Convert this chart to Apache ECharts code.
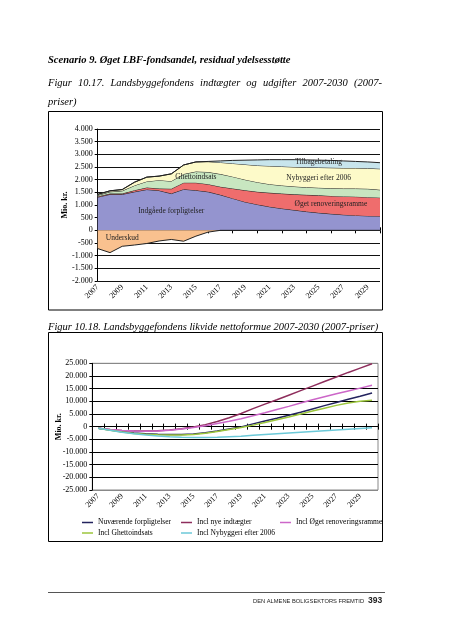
<!DOCTYPE html>
<html><head><meta charset="utf-8">
<script src="https://cdn.jsdelivr.net/npm/echarts@6/dist/echarts.min.js"></script>
<style>html,body{margin:0;padding:0;background:#fff;}#c{width:453px;height:640px;}</style>
</head><body><div id="c"></div>
<script>
// ---------- DATA ----------
const years = ['2007','2008','2009','2010','2011','2012','2013','2014','2015','2016','2017','2018','2019','2020','2021','2022','2023','2024','2025','2026','2027','2028','2029','2030'];

// Figure 10.17 (stacked components, Mio. kr.)
const indgaaede   = [1310,1420,1420,1520,1610,1570,1450,1620,1580,1520,1400,1260,1120,1020,930,860,800,740,690,650,615,590,570,560];
const renovering  = [30,30,30,60,80,80,190,260,300,300,320,390,460,500,550,590,620,660,690,710,725,740,740,730];
const ghetto      = [40,70,110,190,240,330,300,340,440,480,500,470,420,380,340,320,310,300,300,300,310,320,330,310];
const nybyggeri   = [40,40,50,130,170,160,290,360,380,410,460,520,600,660,720,750,770,790,800,810,810,810,810,830];
const tilbage     = [0,0,0,0,0,0,0,0,0,10,60,120,170,220,250,270,290,290,290,290,280,260,250,240];
const underskud   = [-720,-880,-630,-580,-520,-420,-360,-430,-230,-70,0,0,0,0,0,0,0,0,0,0,0,0,0,0];
const topNames = ['Indgåede forpligtelser','Øget renoveringsramme','Ghettoindsats','Nybyggeri efter 2006','Tilbagebetaling','Underskud'];

// Figure 10.18 (Mio. kr.)
const nuvaerende  = [-600,-1300,-2000,-2500,-2800,-3000,-3100,-3100,-2900,-2400,-1700,-900,-100,1100,2200,3300,4500,5700,7000,8300,9500,10800,12000,13300];
const nyeIndt     = [-600,-1100,-1500,-1700,-1750,-1650,-1350,-800,-100,800,2000,3500,5200,7100,8900,10600,12400,14200,16000,17800,19600,21400,23100,24800];
const inclReno    = [-600,-1100,-1500,-1750,-1800,-1700,-1400,-900,-300,400,1200,2100,3100,4300,5500,6800,8000,9300,10600,11800,13000,14100,15200,16300];
const inclGhetto  = [-600,-1400,-2100,-2700,-3000,-3200,-3300,-3300,-3100,-2600,-1900,-1100,-300,600,1600,2700,3800,5000,6200,7300,8400,9300,10000,10400];
const inclNybyg   = [-600,-1400,-2200,-2800,-3300,-3700,-4000,-4200,-4300,-4300,-4200,-4000,-3800,-3400,-3100,-2800,-2500,-2200,-1900,-1600,-1300,-1000,-700,-400];
const lineNames = ['Nuværende forpligtelser','Incl nye indtægter','Incl Øget renoveringsramme','Incl Ghettoindsats','Incl Nybyggeri efter 2006'];

// ---------- STYLE ----------
const serif = '"Liberation Serif","Times New Roman",serif';
const sans = '"Liberation Sans",Arial,sans-serif';
const areaColors = ['#9494cf','#ef6d6d','#c8e6c0','#fdfac9','#c8e5ec','#f9c18f'];
const lineColors = ['#23235e','#8e2d5c','#cc66c8','#9cc63c','#6cc9d8'];

function fmt(v){ const s = String(Math.abs(v)).replace(/\B(?=(\d{3})+(?!\d))/g,'.'); return (v<0?'-':'')+s; }

const chart = echarts.init(document.getElementById('c'), null, {width:453, height:640});

const yLabel = {fontFamily:serif, fontSize:8, color:'#000', margin:5, formatter:fmt};
const xLabel = {fontFamily:serif, fontSize:8, color:'#000', rotate:45, margin:5, interval:1};

const topSeries = [indgaaede, renovering, ghetto, nybyggeri, tilbage].map((d,i)=>({
  name: topNames[i], type:'line', stack:'pos', data:d, symbol:'none',
  xAxisIndex:0, yAxisIndex:0,
  lineStyle:{color:'#222', width:1}, areaStyle:{color:areaColors[i], opacity:1}, z:2+i
}));
topSeries.push({
  name: topNames[5], type:'line', stack:'neg', data:underskud, symbol:'none',
  xAxisIndex:0, yAxisIndex:0,
  lineStyle:{color:'#222', width:1}, areaStyle:{color:areaColors[5], opacity:1}, z:2
});

const botSeries = [nuvaerende, nyeIndt, inclReno, inclGhetto, inclNybyg].map((d,i)=>({
  name: lineNames[i], type:'line', data:d, symbol:'none', xAxisIndex:3, yAxisIndex:1,
  lineStyle:{color:lineColors[i], width:1.5}, itemStyle:{color:lineColors[i]}, z:5
}));

const legendPos = [[82,518.5],[181,518.5],[280,518.5],[82,529],[181,529]];
const legends = lineNames.map((n,i)=>({
  data:[n], left:legendPos[i][0], top:legendPos[i][1], padding:0,
  icon:'rect', itemWidth:11, itemHeight:1.5, selectedMode:false,
  textStyle:{fontFamily:serif, fontSize:7.5, color:'#000'}
}));

const splitColsBot = ['#888','#000','#000','#000','#000','#000','#000','#000','#000','#000','#888'];

const tickAxisTop = {show:true, length:3, interval:(i)=>i%2===1, lineStyle:{color:'#000'}};
const tickAxisBot = {show:true, length:3, interval:0, lineStyle:{color:'#000'}};

chart.setOption({
  animation:false,
  backgroundColor:'#fff',
  grid:[
    {left:97.7, right:73, top:129, bottom:359, containLabel:false},
    {left:92.3, right:75, top:363.3, bottom:150, containLabel:false, show:true, borderColor:'#888', borderWidth:1}
  ],
  legend: legends,
  xAxis:[
    {gridIndex:0, type:'category', data:years, boundaryGap:false, position:'bottom',
     axisLine:{onZero:true, onZeroAxisIndex:0, lineStyle:{color:'#000', width:1}},
     axisTick:tickAxisTop, axisLabel:{show:false}, splitLine:{show:false}},
    {gridIndex:0, type:'category', data:years, boundaryGap:false, position:'bottom',
     axisLine:{show:false, onZero:false}, axisTick:{show:false}, axisLabel:xLabel, splitLine:{show:false}},
    {gridIndex:0, type:'category', data:years, boundaryGap:false, position:'top',
     axisLine:{show:false, onZero:true, onZeroAxisIndex:2}, axisTick:tickAxisTop,
     axisLabel:{show:false}, splitLine:{show:false}},
    {gridIndex:1, type:'category', data:years, boundaryGap:true, position:'bottom',
     axisLine:{onZero:true, onZeroAxisIndex:1, lineStyle:{color:'#000', width:1}},
     axisTick:tickAxisBot, axisLabel:{show:false}, splitLine:{show:false}},
    {gridIndex:1, type:'category', data:years, boundaryGap:true, position:'bottom',
     axisLine:{show:false, onZero:false}, axisTick:{show:false}, axisLabel:xLabel, splitLine:{show:false}},
    {gridIndex:1, type:'category', data:years, boundaryGap:true, position:'top',
     axisLine:{show:false, onZero:true, onZeroAxisIndex:3}, axisTick:tickAxisBot,
     axisLabel:{show:false}, splitLine:{show:false}}
  ],
  yAxis:[
    {gridIndex:0, type:'value', min:-2000, max:4000, interval:500,
     name:'Mio. kr.', nameLocation:'middle', nameRotate:90, nameGap:28.5, nameMoveOverlap:false,
     nameTextStyle:{fontFamily:serif, fontSize:8, fontWeight:'bold', color:'#000'},
     axisLine:{show:true, onZero:false, lineStyle:{color:'#000'}}, axisTick:{show:true, length:3, lineStyle:{color:'#000'}},
     axisLabel:yLabel, splitLine:{show:true, lineStyle:{color:'#111', width:1}}},
    {gridIndex:1, type:'value', min:-25000, max:25000, interval:5000,
     name:'Mio. kr.', nameLocation:'middle', nameRotate:90, nameGap:29, nameMoveOverlap:false,
     nameTextStyle:{fontFamily:serif, fontSize:8, fontWeight:'bold', color:'#000'},
     axisLine:{show:true, onZero:false, lineStyle:{color:'#000'}}, axisTick:{show:true, length:3, lineStyle:{color:'#000'}},
     axisLabel:yLabel, splitLine:{show:true, lineStyle:{color:splitColsBot, width:1}}},
    {gridIndex:0, type:'value', min:-2000, max:4000, interval:500, position:'right',
     axisLine:{show:false, onZero:false}, axisTick:{show:false}, axisLabel:{show:false}, splitLine:{show:false}},
    {gridIndex:1, type:'value', min:-25000, max:25000, interval:5000, position:'right',
     axisLine:{show:false, onZero:false}, axisTick:{show:false}, axisLabel:{show:false}, splitLine:{show:false}}
  ],
  series: topSeries.concat(botSeries)
});

// ---------- annotations & page text ----------
const g = [];
g.push({type:'rect', shape:{x:48.5, y:111.5, width:334, height:198.5}, style:{fill:'none', stroke:'#000', lineWidth:1}, z:0, silent:true});
g.push({type:'rect', shape:{x:48.5, y:332.5, width:334, height:209}, style:{fill:'none', stroke:'#000', lineWidth:1}, z:0, silent:true});

g.push({type:'text', x:48, y:60, style:{text:'Scenario 9. Øget LBF-fondsandel, residual ydelsesstøtte', font:'italic bold 10.5px '+serif, fill:'#000', textVerticalAlign:'middle'}});

const cv = document.createElement('canvas').getContext('2d');
const capFont = 'italic 10.5px '+serif;
cv.font = capFont;
const words = ['Figur','10.17.','Landsbyggefondens','indtægter','og','udgifter','2007-2030','(2007-'];
const widths = words.map(w=>cv.measureText(w).width);
const totalW = widths.reduce((a,b)=>a+b,0);
const gap = (334 - totalW)/(words.length-1);
let xx = 48;
words.forEach((w,i)=>{
  g.push({type:'text', x:xx, y:83, style:{text:w, font:capFont, fill:'#000', textVerticalAlign:'middle'}});
  xx += widths[i] + gap;
});
g.push({type:'text', x:48, y:102, style:{text:'priser)', font:capFont, fill:'#000', textVerticalAlign:'middle'}});
g.push({type:'text', x:48, y:327, style:{text:'Figur 10.18. Landsbyggefondens likvide nettoformue 2007-2030 (2007-priser)', font:capFont, fill:'#000', textVerticalAlign:'middle'}});

const areaLabels = [
  ['Tilbagebetaling', 17.95, 2680],
  ['Ghettoindsats', 8.2, 2090],
  ['Nybyggeri efter 2006', 17.5, 2050],
  ['Øget renoveringsramme', 18.8, 1030],
  ['Indgåede forpligtelser', 6.1, 750],
  ['Underskud', 1.65, -310]
];
areaLabels.forEach(([t,xi,v])=>{
  let p = chart.convertToPixel({xAxisIndex:0, yAxisIndex:0}, [xi, v]);
  g.push({type:'text', x:p[0], y:p[1], z:50, style:{text:t, font:'7.5px '+serif, fill:'#222', textAlign:'center', textVerticalAlign:'middle'}});
});

// footer
const footTxt = 'DEN ALMENE BOLIGSEKTORS FREMTID';
cv.font = '10px '+sans;
const footSize = 10 * 111 / cv.measureText(footTxt).width;
g.push({type:'line', shape:{x1:48, y1:592.5, x2:385, y2:592.5}, style:{stroke:'#555', lineWidth:1}});
g.push({type:'text', x:253, y:601, style:{text:footTxt, font:footSize.toFixed(2)+'px '+sans, fill:'#222', textVerticalAlign:'middle'}});
g.push({type:'text', x:368, y:601, style:{text:'393', font:'bold 8.5px '+sans, fill:'#222', textVerticalAlign:'middle'}});

chart.setOption({graphic:g});
</script>
</body></html>
